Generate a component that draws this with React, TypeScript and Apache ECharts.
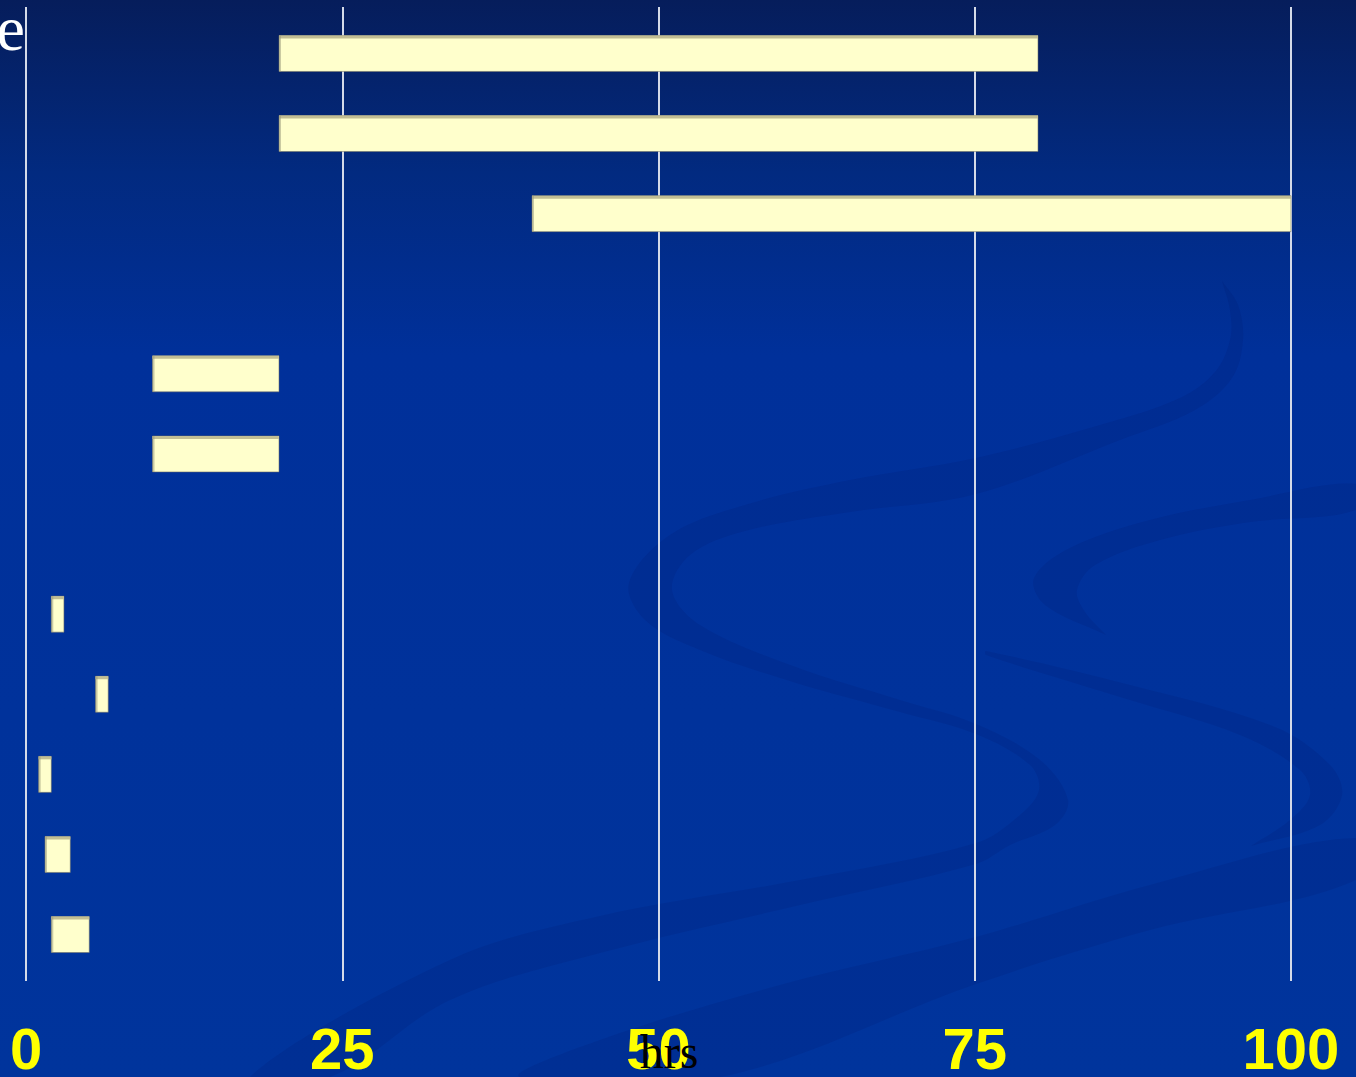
import React, { useEffect, useRef } from "react";
import * as echarts from "echarts";

// Row order top -> bottom; null = empty row
const rowStart: (number | null)[] = [20, 20, 40, null, 10, 10, null, 2, 5.5, 1, 1.5, 2];
const rowEnd: (number | null)[] = [80, 80, 100, null, 20, 20, null, 3, 6.5, 2, 3.5, 5];
const xTicks = [0, 25, 50, 75, 100];
const xAxisTitle = "hrs";
const yAxisTitleFragment = "e";

// decorative background ribbons (pixel coordinates)
const swooshA_L = [[1222,281],[1238,305],[1243,340],[1232,378],[1195,410],[1120,440],[976,494],[850,512],[745,531],[690,555],[672,590],[700,625],[793,666],[900,700],[976,724],[1040,760],[1068,800],[1055,825],[1010,845],[976,864],[800,905],[600,953],[450,1000],[330,1077]];
const swooshA_U = [[1222,281],[1230,310],[1230,340],[1215,372],[1180,398],[1100,425],[976,458],[850,480],[745,505],[670,535],[629,583],[645,620],[700,650],[793,682],[900,712],[976,734],[1030,765],[1039,790],[1020,815],[976,843],[800,880],[600,916],[450,960],[250,1077]];
const swooshB1_out = [[1356,484],[1250,500],[1150,520],[1070,548],[1034,578],[1045,605],[1106,635]];
const swooshB1_in = [[1356,510],[1250,522],[1160,540],[1095,565],[1077,590],[1085,612],[1106,635]];
const swooshB2_out = [[986,651],[1130,685],[1275,727],[1330,765],[1342,795],[1320,825],[1251,846]];
const swooshB2_in = [[986,655],[1130,700],[1240,735],[1300,770],[1310,795],[1290,820],[1251,846]];
const swooshC = [[1356,838],[1150,885],[976,937],[780,985],[600,1040],[520,1077],[720,1077],[976,984],[1150,930],[1356,880]];

const ribbon = (a: number[][], b: number[][]) => a.concat(b.slice().reverse());

export default function App() {
  const ref = useRef<HTMLDivElement>(null);
  useEffect(() => {
    document.body.style.margin = "0";
    if (!ref.current) return;
    const chart = echarts.init(ref.current, null, { renderer: "svg" });
    const data: number[][] = [];
    rowStart.forEach((s, i) => {
      const e = rowEnd[i];
      if (s !== null && e !== null) data.push([i, s, e]);
    });
    const swooshFill = "rgba(0,20,90,0.12)";
    const poly = (pts: number[][]) => ({
      type: "polygon",
      z: -10,
      silent: true,
      shape: { points: pts, smooth: 0.35 },
      style: { fill: swooshFill },
    });
    chart.setOption({
      animation: false,
      backgroundColor: "transparent",
      grid: { left: 26, right: 65, top: 7, bottom: 95 },
      xAxis: {
        type: "value",
        min: 0,
        max: 100,
        interval: 25,
        axisLine: { show: false },
        axisTick: { show: false },
        splitLine: { show: true, lineStyle: { color: "#D4DAE8", width: 2 } },
        axisLabel: {
          margin: 45,
          color: "#FFFF00",
          fontSize: 58,
          lineHeight: 44,
          fontWeight: "bold",
          fontFamily: "Liberation Sans, Arial, sans-serif",
          formatter: (v: number) => (xTicks.indexOf(v) >= 0 ? String(v) : ""),
        },
      },
      yAxis: {
        type: "value",
        inverse: true,
        min: -0.58,
        max: 11.58,
        show: false,
        splitLine: { show: false },
      },
      graphic: [
        poly(ribbon(swooshA_L, swooshA_U)),
        poly(ribbon(swooshB1_out, swooshB1_in)),
        poly(ribbon(swooshB2_out, swooshB2_in)),
        poly(swooshC),
        {
          type: "text",
          z: 100,
          x: 25,
          y: 0,
          style: {
            text: yAxisTitleFragment,
            fill: "#FFFFFF",
            fontSize: 64,
            lineHeight: 56,
            fontFamily: "Liberation Serif, Times New Roman, serif",
            align: "right",
            verticalAlign: "top",
          },
        },
        {
          type: "text",
          z: 100,
          x: 669,
          y: 1075,
          style: {
            text: xAxisTitle,
            fill: "#000000",
            fontSize: 48,
            fontFamily: "Liberation Serif, Times New Roman, serif",
            align: "center",
            verticalAlign: "bottom",
          },
        },
      ],
      series: [
        {
          type: "custom",
          data,
          encode: { x: [1, 2], y: 0 },
          renderItem: (params: any, api: any) => {
            const row = api.value(0);
            const p0 = api.coord([api.value(1), row]);
            const p1 = api.coord([api.value(2), row]);
            const h = 36;
            const x = p0[0];
            const w = p1[0] - p0[0];
            const y = p0[1] - h / 2;
            return {
              type: "group",
              children: [
                {
                  type: "rect",
                  shape: { x, y, width: w, height: h },
                  style: { fill: "#FFFFCC", stroke: "rgba(110,110,100,0.55)", lineWidth: 1 },
                },
                {
                  type: "rect",
                  shape: { x, y, width: w, height: 3 },
                  style: { fill: "#C2BE94" },
                },
                {
                  type: "rect",
                  shape: { x, y, width: 2, height: h },
                  style: { fill: "rgba(150,150,120,0.5)" },
                },
              ],
            };
          },
        },
      ],
    });
    return () => chart.dispose();
  }, []);
  return (
    <div
      ref={ref}
      style={{
        width: 1356,
        height: 1077,
        background:
          "linear-gradient(to bottom, #061D5B 0%, #022A80 16%, #00309A 33%, #00349C 100%)",
      }}
    />
  );
}
